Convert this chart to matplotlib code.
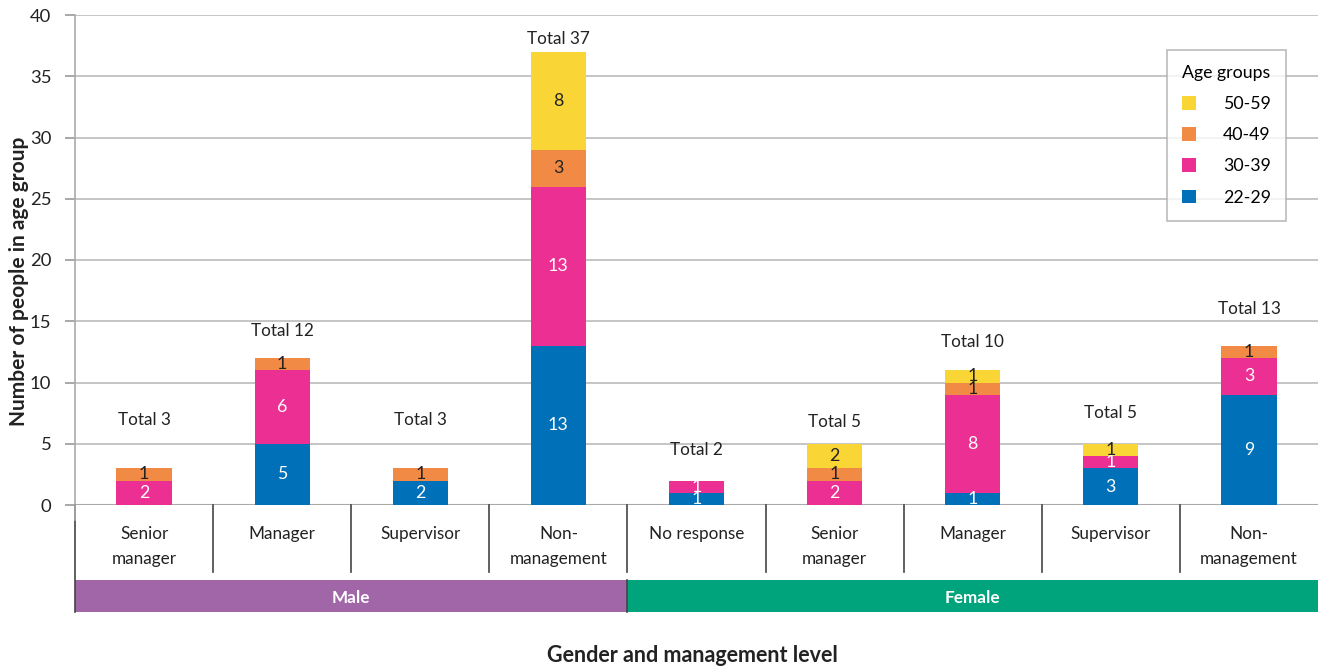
import matplotlib.pyplot as plt
from matplotlib.patches import Rectangle
import matplotlib.transforms as mtransforms

plt.rcParams['font.family'] = ['Lato', 'DejaVu Sans']

# data
categories = ['Senior\nmanager', 'Manager', 'Supervisor', 'Non-\nmanagement',
              'No response', 'Senior\nmanager', 'Manager', 'Supervisor', 'Non-\nmanagement']
genders = ['Male', 'Female']
gender_counts = [4, 5]
age_groups = ['22-29', '30-39', '40-49', '50-59']
age_22_29 = [0, 5, 2, 13, 1, 0, 1, 3, 9]
age_30_39 = [2, 6, 0, 13, 1, 2, 8, 1, 3]
age_40_49 = [1, 1, 1, 3, 0, 1, 1, 0, 1]
age_50_59 = [0, 0, 0, 8, 0, 2, 1, 1, 0]
totals = [3, 12, 3, 37, 2, 5, 10, 5, 13]

# layout
total_label_y = [6.9, 14.2, 6.9, 38.0, 4.5, 6.8, 13.3, 7.5, 16.0]
colors = ['#0070B8', '#EC3093', '#F08A45', '#F9D535']
text_colors = ['white', 'white', '#222222', '#222222']
gender_colors = ['#A066A8', '#00A47C']
fs = 12.3

fig = plt.figure(figsize=(13.25, 6.71), dpi=100)
ax = fig.add_axes([75 / 1325, 1 - 505 / 671, (1318 - 75) / 1325, 490 / 671])

series = [age_22_29, age_30_39, age_40_49, age_50_59]
x = list(range(len(categories)))
bottom = [0] * len(categories)
handles = []
for vals, col, tcol, name in zip(series, colors, text_colors, age_groups):
    bars = ax.bar(x, vals, width=0.4, bottom=bottom, color=col, zorder=3, label=name)
    handles.append(bars)
    for xi, v, b in zip(x, vals, bottom):
        if v > 0:
            ax.text(xi, b + v / 2, str(v), ha='center', va='center',
                    color=tcol, fontsize=fs + 0.5, zorder=4)
    bottom = [b + v for b, v in zip(bottom, vals)]

for xi, t, ty in zip(x, totals, total_label_y):
    ax.text(xi, ty, f'Total {t}', ha='center', va='center', fontsize=fs, color='#222222')

ax.set_xlim(-0.5, len(categories) - 0.5)
ax.set_ylim(0, 40)
ax.set_yticks(range(0, 41, 5))
ax.grid(axis='y', color='#BBBBBB', linewidth=1.2, zorder=0)
ax.tick_params(axis='y', labelsize=fs + 1, labelcolor='#222222', color='#999999',
               length=7, width=1.2, direction='out', pad=10)
ax.set_xticks([])
for s in ['top', 'right', 'bottom']:
    ax.spines[s].set_visible(False)
ax.spines['left'].set_color('#AAAAAA')
ax.spines['left'].set_linewidth(1.2)
ax.spines['left'].set_bounds(-1.2, 40)
ax.axhline(0, color='#AAAAAA', linewidth=1.5, zorder=2)

# category labels and separators below axis
trans = mtransforms.blended_transform_factory(ax.transData, ax.transAxes)


def ay(py):
    return (505 - py) / 490


for xi, lab in zip(x, categories):
    if '\n' in lab:
        ax.text(xi, ay(546.5), lab, transform=trans, ha='center', va='center',
                fontsize=fs, color='#222222', linespacing=1.75, clip_on=False)
    else:
        ax.text(xi, ay(534), lab, transform=trans, ha='center', va='center',
                fontsize=fs, color='#222222', clip_on=False)
for xi in range(1, len(categories)):
    ax.plot([xi - 0.5, xi - 0.5], [ay(505), ay(572)], transform=trans,
            color='#444444', linewidth=1.2, clip_on=False)
ax.plot([-0.5, -0.5], [ay(505), ay(612)], transform=trans,
        color='#444444', linewidth=1.2, clip_on=False)

# gender bands
start = -0.5
for g, n, col in zip(genders, gender_counts, gender_colors):
    ax.add_patch(Rectangle((start, ay(612)), n, ay(580) - ay(612), transform=trans,
                           facecolor=col, edgecolor='none', clip_on=False))
    ax.text(start + n / 2, ay(598), g, transform=trans,
            ha='center', va='center', color='white', fontsize=fs,
            fontweight='bold', clip_on=False)
    start += n
ax.plot([3.5, 3.5], [ay(580), ay(612)], transform=trans,
        color='#444444', linewidth=1.2, clip_on=False)

ax.set_ylabel('Number of people in age group', fontsize=15, fontweight='bold',
              color='#222222', va='center')
ax.yaxis.set_label_coords((19 - 75) / 1243, ay(281))
fig.text(692 / 1325, 1 - 655 / 671, 'Gender and management level', ha='center',
         va='center', fontsize=15.5, fontweight='bold', color='#222222')

leg = ax.legend(handles[::-1], age_groups[::-1], title='Age groups',
                loc='upper left', bbox_to_anchor=((1167 - 75) / 1243, 1 - (50 - 15) / 490),
                fontsize=fs + 0.5, title_fontsize=fs + 0.5, frameon=True, fancybox=False,
                edgecolor='#AAAAAA', handlelength=0.8, handleheight=0.8,
                handletextpad=1.5, labelspacing=0.85, borderpad=0.85,
                borderaxespad=0)
leg.get_frame().set_linewidth(1.2)

fig.savefig('out.png', dpi=100)
